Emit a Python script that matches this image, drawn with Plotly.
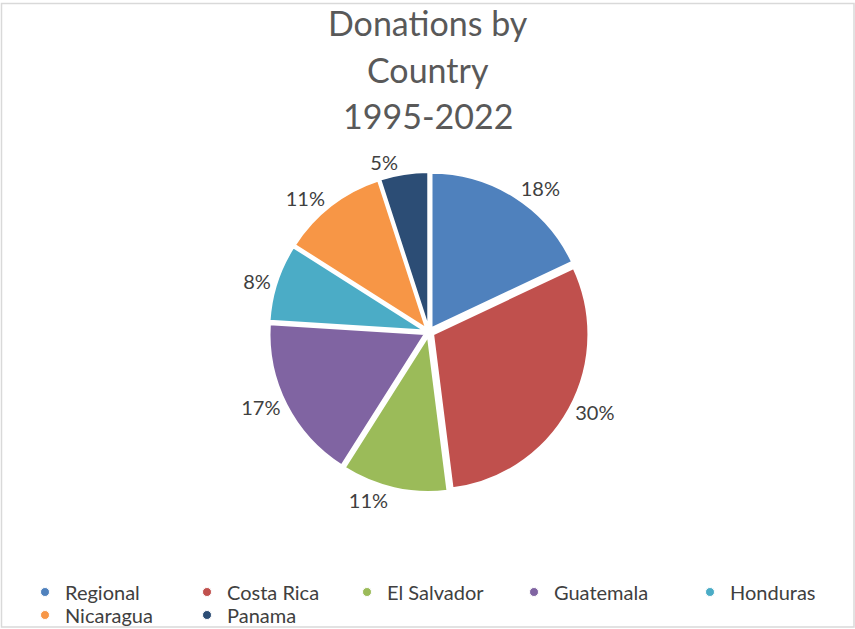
import plotly.graph_objects as go

countries = ["Regional", "Costa Rica", "El Salvador", "Guatemala", "Honduras", "Nicaragua", "Panama"]
shares = [18, 30, 11, 17, 8, 11, 5]
colors = ["#4f81bd", "#c0504d", "#9bbb59", "#8064a2", "#4bacc6", "#f79646", "#2c4d75"]
title_lines = ["Donations by", "Country", "1995-2022"]

W, H = 855, 629
cx, cy, rad = 429, 332, 160

# legend item anchor positions (px: left edge, vertical center)
leg_x = [25, 187, 347, 514, 690, 25, 187]
leg_y = [592, 592, 592, 592, 592, 615, 615]

fig = go.Figure()
fig.add_trace(go.Pie(
    labels=countries, values=shares, sort=False, direction="clockwise", rotation=0,
    marker=dict(colors=colors, line=dict(color="white", width=2)),
    pull=[0.03] * len(shares),
    textposition="outside", texttemplate="%{percent:.0%}",
    textfont=dict(family="Lato", size=20, color="#404040"),
    showlegend=False, hoverinfo="label+percent",
    domain=dict(x=[(cx - rad) / W, (cx + rad) / W], y=[(H - cy - rad) / H, (H - cy + rad) / H]),
))
legends = {}
for i, (c, col) in enumerate(zip(countries, colors)):
    lname = "legend" if i == 0 else f"legend{i + 1}"
    fig.add_trace(go.Scatter(x=[None], y=[None], mode="markers", name=c, legend=lname,
                             marker=dict(symbol="circle", size=9, color=col,
                                         line=dict(color="white", width=1))))
    legends[lname] = dict(orientation="h", x=leg_x[i] / W, xanchor="left",
                          y=(H - leg_y[i]) / H, yanchor="middle",
                          font=dict(family="Lato", size=20, color="#404040"),
                          bgcolor="rgba(0,0,0,0)")

for i, t in enumerate(title_lines):
    fig.add_annotation(text=t, x=0.5, xref="paper", y=(H - (23 + 46 * i)) / H, yref="paper",
                       showarrow=False, yanchor="middle",
                       font=dict(family="Lato", size=34, color="#595959"))

fig.add_shape(type="rect", xref="paper", yref="paper",
              x0=1.5 / W, x1=(W - 1) / W, y0=2 / H, y1=(H - 3.5) / H,
              line=dict(color="#d9d9d9", width=1.5), fillcolor="rgba(0,0,0,0)")

fig.update_layout(
    width=W, height=H, margin=dict(l=0, r=0, t=0, b=0, autoexpand=False),
    paper_bgcolor="white", plot_bgcolor="white",
    xaxis=dict(visible=False), yaxis=dict(visible=False),
    **legends,
)
fig.write_html("out.html")
